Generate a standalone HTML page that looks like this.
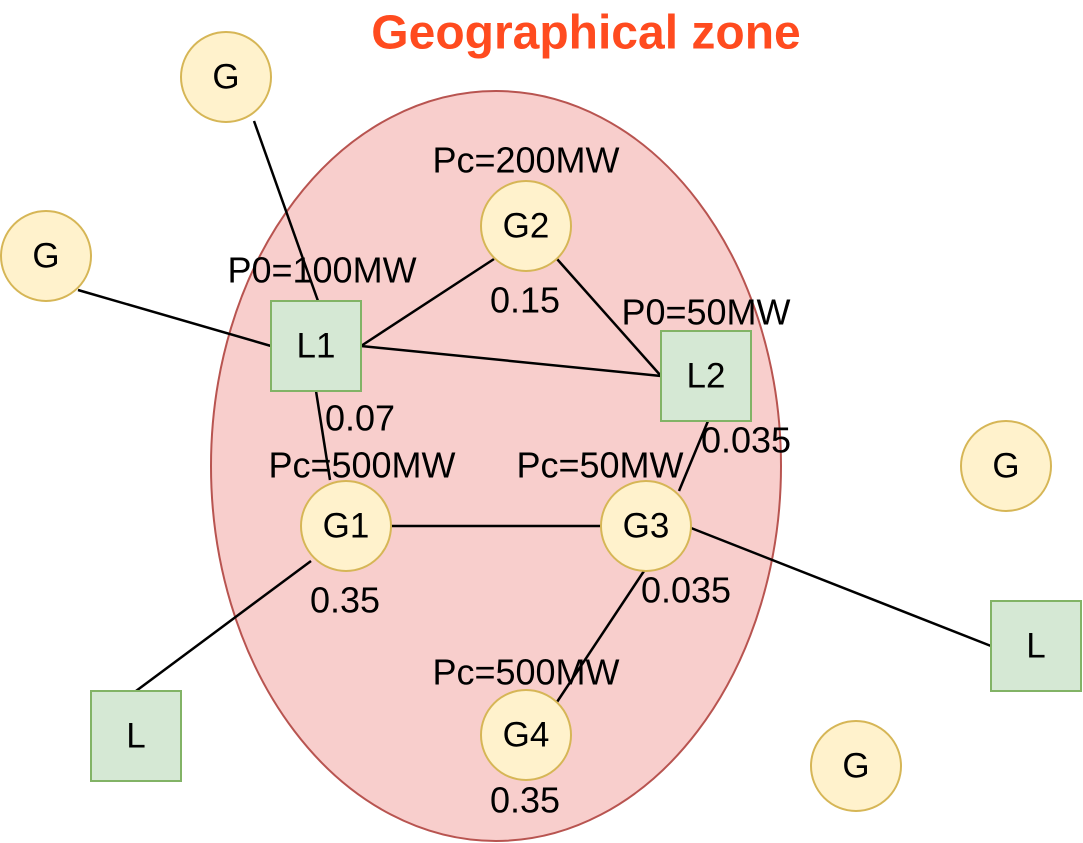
<!DOCTYPE html>
<html><head><meta charset="utf-8"><style>
html,body{margin:0;padding:0;background:#fff;}
svg{display:block;}
text{font-family:"Liberation Sans",Arial,sans-serif;}
</style></head><body>
<svg width="1083" height="843" viewBox="0 0 1083 843">
<text x="586" y="33" text-anchor="middle" dominant-baseline="central" font-size="48" font-weight="bold" fill="#ff4b1f">Geographical zone</text>
<ellipse cx="496" cy="466" rx="285" ry="375" fill="#f8cecc" stroke="#b85450" stroke-width="2"/>
<g stroke="#000" stroke-width="2.5">
<line x1="254" y1="121" x2="318" y2="301"/>
<line x1="78" y1="290" x2="271" y2="346"/>
<line x1="361" y1="346" x2="494" y2="259"/>
<line x1="361" y1="346" x2="661" y2="376"/>
<line x1="557" y1="259" x2="661" y2="376"/>
<line x1="316" y1="391" x2="330" y2="480"/>
<line x1="708" y1="421" x2="679" y2="491"/>
<line x1="391" y1="526" x2="601" y2="526"/>
<line x1="691" y1="528" x2="991" y2="646"/>
<line x1="311" y1="561" x2="136" y2="691"/>
<line x1="646" y1="568" x2="557" y2="702"/>
</g>
<g fill="#fff2cc" stroke="#d6b656" stroke-width="2">
<circle cx="226" cy="77" r="45"/>
<circle cx="46" cy="256" r="45"/>
<circle cx="526" cy="226" r="45"/>
<circle cx="346" cy="526" r="45"/>
<circle cx="646" cy="526" r="45"/>
<circle cx="526" cy="735" r="45"/>
<circle cx="1006" cy="466" r="45"/>
<circle cx="856" cy="766" r="45"/>
</g>
<g fill="#d5e8d4" stroke="#82b366" stroke-width="2">
<rect x="271" y="301" width="90" height="90"/>
<rect x="661" y="331" width="90" height="90"/>
<rect x="991" y="601" width="90" height="90"/>
<rect x="91" y="691" width="90" height="90"/>
</g>
<g font-size="35" text-anchor="middle" dominant-baseline="central" fill="#000">
<text x="226" y="77">G</text>
<text x="46" y="256">G</text>
<text x="526" y="226">G2</text>
<text x="346" y="526">G1</text>
<text x="646" y="526">G3</text>
<text x="526" y="735">G4</text>
<text x="1006" y="466">G</text>
<text x="856" y="766">G</text>
<text x="316" y="346">L1</text>
<text x="706" y="376">L2</text>
<text x="1036" y="646">L</text>
<text x="136" y="736">L</text>
</g>
<g font-size="36" text-anchor="middle" dominant-baseline="central" fill="#000">
<text x="526" y="160">Pc=200MW</text>
<text x="322" y="270">P0=100MW</text>
<text x="525" y="300">0.15</text>
<text x="706" y="312">P0=50MW</text>
<text x="360" y="418">0.07</text>
<text x="362" y="465">Pc=500MW</text>
<text x="600" y="465">Pc=50MW</text>
<text x="746" y="440">0.035</text>
<text x="345" y="600">0.35</text>
<text x="686" y="590">0.035</text>
<text x="526" y="672">Pc=500MW</text>
<text x="525" y="800">0.35</text>
</g>
</svg>
</body></html>
